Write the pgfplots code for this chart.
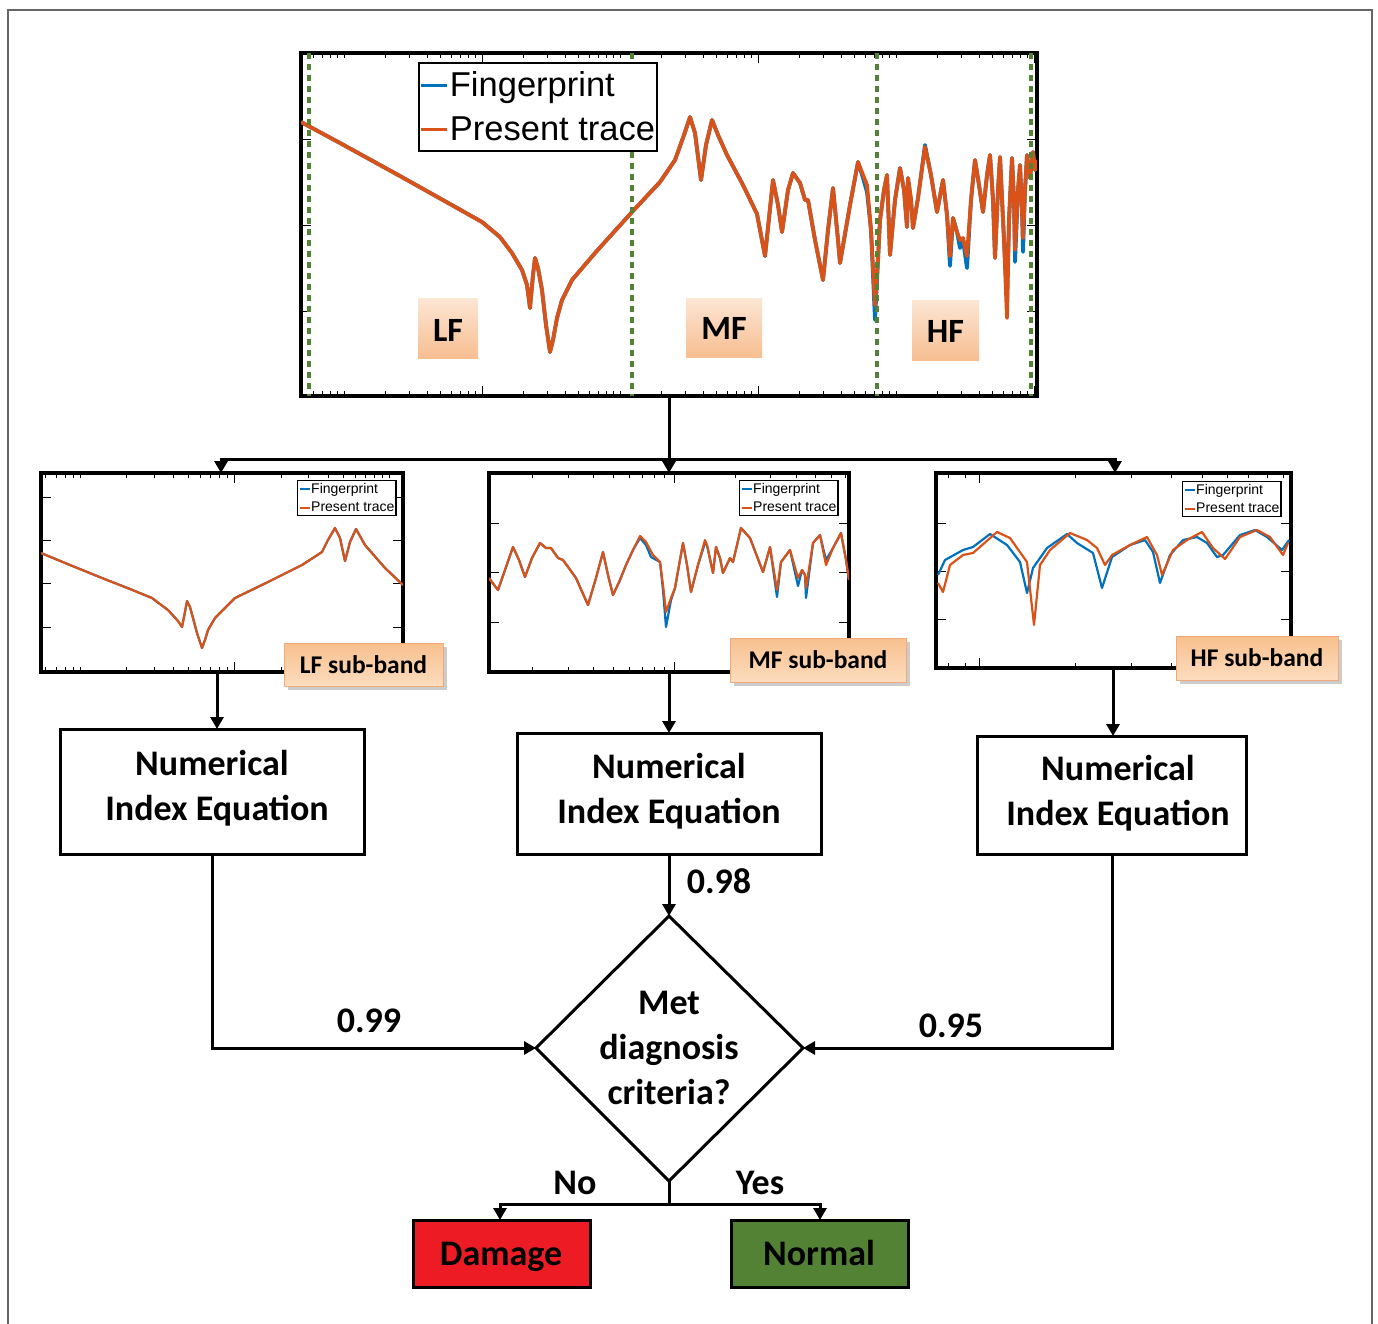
\documentclass[border=0pt]{standalone}
\usepackage{pgfplots}
\pgfplotsset{compat=1.18}
\usetikzlibrary{arrows.meta}
\usepackage{fontspec}
\setmainfont{Carlito}
\newfontfamily\arialf{Liberation Sans}
\definecolor{mblue}{RGB}{0,114,189}
\definecolor{morange}{RGB}{217,83,25}
\definecolor{dgreen}{RGB}{84,130,53}
\definecolor{dmgred}{RGB}{237,28,36}
\definecolor{nrmgreen}{RGB}{84,130,53}
\definecolor{peachT}{RGB}{252,230,212}
\definecolor{peachB}{RGB}{247,190,145}
\definecolor{subT}{RGB}{248,192,142}
\definecolor{subB}{RGB}{252,220,190}
\definecolor{subE}{RGB}{240,170,120}
\newcommand\bigf{\fontsize{36}{43}\selectfont\bfseries}
\newcommand\lblf{\fontsize{34}{40}\selectfont\bfseries}
\newcommand\subf{\fontsize{25.5}{30}\selectfont\bfseries}
\pgfplotsset{
  pxax/.style={scale only axis, y dir=reverse,
    line width=3.8pt,
    axis line style={line width=3.8pt},
    tick style={black, line width=1pt},
    major tick length=10pt, minor tick length=5pt,
    xticklabels={}, yticklabels={}, clip=true,
    legend cell align=left},
  sublegend/.style={legend style={anchor=north west, draw=black, line width=1.2pt,
      font=\arialf\fontsize{14}{16}\selectfont, inner xsep=1pt, inner ysep=2pt,
      row sep=6pt, nodes={inner sep=0.6pt}},
    legend image code/.code={\draw[##1, line width=2pt] (0pt,0pt) -- (10pt,0pt);}},
}
\begin{document}
\begin{tikzpicture}
\begin{scope}[x=1pt,y=-1pt]
\useasboundingbox (0,0) rectangle (1378,1323);
\draw[black!60, line width=1.5pt] (8,1340) -- (8,10) -- (1372,10) -- (1372,1340);
\end{scope}

% ---------------- top plot ----------------
\begin{axis}[pxax, at={(301pt,-53pt)}, anchor=north west, width=736pt, height=343pt,
  xmin=301, xmax=1037, ymin=53, ymax=396,
  xtick={482,758,1034},
  minor xtick={313.4,322.6,330.6,337.7,344,385.5,409.8,427.1,440.5,451.4,460.6,468.6,475.7,523.5,547.8,565.1,578.5,589.4,598.6,606.6,613.7,620,661.5,685.8,703.1,716.5,727.4,736.6,744.6,751.7,799.5,823.8,841.1,854.5,865.4,874.6,882.6,889.7,896,937.5,961.8,979.1,992.5,1003.4,1012.6,1020.6,1027.7},
  ytick={139,225,311},
  legend style={at={(axis cs:418,62)}, anchor=north west, draw=black, line width=1.8pt,
    font=\arialf\fontsize{34.5}{40}\selectfont, inner xsep=1pt, inner ysep=8pt,
    row sep=16pt, nodes={inner sep=1pt}},
  legend image code/.code={\draw[#1, line width=3pt] (0pt,0pt) -- (26pt,0pt);}]
\addplot[mblue, line width=3.8pt, line join=round] coordinates {
(301,122) (340,143) (400,176) (450,204) (482,222) (500,237) (512,253) (522,270) (527,285) (530,308) (533,275) (535,258) (538,268) (542,290) (546,325) (550,352) (553,340) (557,318) (562,300) (572,280) (595,253) (632,212) (660,182) (675,160) (684,135) (690,117) (695,133) (701,180) (706,145) (712,120) (718,135) (727,155) (743,185) (757,214) (765,256) (773,180) (778,205) (782,232) (788,190) (793,173) (800,183) (805,200) (808,200) (815,240) (823,280) (828,230) (833,188) (838,240) (840,263) (850,205) (858,162) (863,178) (867,192) (871,230) (875,320) (878,260) (880,220) (884,190) (887,175) (890,255) (895,200) (900,168) (904,190) (907,227) (908,178) (911,200) (913,228) (918,198) (925,145) (931,175) (937,212) (943,180) (947,215) (950,266) (953,218) (957,232) (960,248) (963,240) (967,268) (971,200) (975,160) (979,185) (983,212) (987,175) (990,155) (993,200) (995,258) (998,190) (1000,157) (1004,240) (1007,300) (1009,220) (1012,158) (1014,200) (1015,262) (1018,190) (1020,165) (1022,210) (1023,252) (1025,190) (1027,155) (1030,178) (1033,152) (1035,170) (1037,160)};
\addlegendentry{Fingerprint}
\addplot[morange, line width=3.8pt, line join=round] coordinates {
(301,122) (340,143) (400,176) (450,204) (482,222) (500,237) (512,253) (522,270) (527,285) (530,308) (533,275) (535,258) (538,268) (542,290) (546,325) (550,352) (553,340) (557,318) (562,300) (572,280) (595,253) (632,212) (660,182) (675,160) (684,135) (690,117) (695,133) (701,180) (706,145) (712,120) (718,135) (727,155) (743,185) (757,214) (765,256) (773,180) (778,205) (782,232) (788,190) (793,173) (800,183) (805,200) (808,200) (815,240) (823,280) (828,230) (833,188) (838,240) (840,263) (850,205) (858,162) (863,175) (867,185) (871,230) (875,305) (878,260) (880,220) (884,190) (887,175) (890,255) (895,200) (900,168) (904,190) (907,227) (908,178) (911,200) (913,228) (918,198) (925,147) (931,175) (937,212) (943,180) (947,215) (950,256) (953,218) (957,232) (960,240) (963,238) (967,256) (971,200) (975,160) (979,185) (983,212) (987,175) (990,155) (993,200) (995,258) (998,190) (1000,157) (1004,240) (1007,318) (1009,220) (1012,158) (1014,200) (1015,250) (1018,190) (1020,165) (1022,210) (1023,238) (1025,190) (1027,155) (1030,178) (1033,152) (1035,170) (1037,160)};
\addlegendentry{Present trace}
\addplot[dgreen, line width=4pt, dash pattern=on 6pt off 5pt, forget plot] coordinates {(309,53) (309,396)};
\addplot[dgreen, line width=4pt, dash pattern=on 6pt off 5pt, forget plot] coordinates {(632,53) (632,396)};
\addplot[dgreen, line width=4pt, dash pattern=on 6pt off 5pt, forget plot] coordinates {(877,53) (877,396)};
\addplot[dgreen, line width=4pt, dash pattern=on 6pt off 5pt, forget plot] coordinates {(1031,53) (1031,396)};
\end{axis}

% ---------------- LF sub-band ----------------
\begin{axis}[pxax, sublegend, at={(41pt,-473pt)}, anchor=north west, width=362pt, height=199pt,
  xmin=41, xmax=403, ymin=473, ymax=672,
  xtick={234.9},
  minor xtick={45.9,56.2,65.1,73.1,80.2,126.7,154,173.3,188.3,200.6,210.9,219.8,227.8,281.4,308.7,328,343,355.3,365.6,374.5,382.5,389.5},
  ytick={497,540,583,627},
  legend style={at={(axis cs:297,480)}}]
\addplot[mblue, line width=2.2pt, line join=round] coordinates {
(41,553) (70,565) (102,578) (130,589) (152,598) (168,610) (178,621) (182,627) (185,612) (187,601) (190,607) (193,618) (197,633) (202,648) (205,640) (208,630) (215,618) (235,598) (268,582) (302,565) (322,552) (328,540) (335,528) (340,538) (345,561) (350,542) (356,529) (365,545) (385,568) (403,585)};
\addlegendentry{Fingerprint}
\addplot[morange, line width=2.2pt, line join=round] coordinates {
(41,553) (70,565) (102,578) (130,589) (152,598) (168,610) (178,621) (182,627) (185,612) (187,601) (190,607) (193,618) (197,633) (202,648) (205,640) (208,630) (215,618) (235,598) (268,582) (302,565) (322,552) (328,540) (335,528) (340,538) (345,561) (350,542) (356,529) (365,545) (385,568) (403,585)};
\addlegendentry{Present trace}
\end{axis}

% ---------------- MF sub-band ----------------
\begin{axis}[pxax, sublegend, at={(489pt,-473pt)}, anchor=north west, width=360pt, height=199pt,
  xmin=489, xmax=849, ymin=473, ymax=672,
  xtick={674.1},
  minor xtick={532.4,568.2,593.5,613.1,629.2,642.8,654.5,664.9,735.1,770.9,796.2,815.8,831.9,845.5},
  ytick={523,572,622},
  legend style={at={(axis cs:739,480)}}]
\addplot[mblue, line width=2.2pt, line join=round] coordinates {
(489,578) (498,590) (505,570) (513,547) (519,560) (525,577) (532,558) (540,543) (546,548) (551,548) (558,558) (563,560) (576,578) (588,605) (596,578) (603,552) (608,575) (613,595) (620,580) (626,565) (633,550) (640,538) (646,545) (651,557) (660,562) (663,590) (666,627) (671,600) (675,588) (683,543) (687,565) (691,592) (698,565) (705,543) (707,545) (713,573) (716,547) (720,558) (723,573) (730,558) (733,562) (741,528) (750,538) (763,572) (770,547) (777,597) (781,562) (790,550) (798,586) (802,570) (805,575) (806,598) (813,543) (820,535) (826,560) (833,548) (841,533) (846,560) (849,580)};
\addlegendentry{Fingerprint}
\addplot[morange, line width=2.2pt, line join=round] coordinates {
(489,578) (498,590) (505,570) (513,547) (519,560) (525,577) (532,558) (540,543) (546,548) (551,548) (558,558) (563,560) (576,578) (588,605) (596,578) (603,552) (608,575) (613,595) (620,580) (626,565) (633,550) (640,536) (646,542) (653,555) (660,562) (663,585) (666,612) (671,598) (675,588) (683,543) (687,565) (691,592) (698,565) (705,540) (707,545) (713,573) (716,547) (720,558) (723,573) (730,558) (733,562) (741,528) (750,538) (763,572) (770,547) (777,590) (781,562) (790,550) (798,578) (802,570) (805,575) (806,588) (813,543) (820,535) (826,565) (833,548) (841,533) (846,560) (849,580)};
\addlegendentry{Present trace}
\end{axis}

% ---------------- HF sub-band ----------------
\begin{axis}[pxax, sublegend, at={(936pt,-473pt)}, anchor=north west, width=355pt, height=195pt,
  xmin=936, xmax=1291, ymin=473, ymax=668,
  xtick={979.8},
  minor xtick={948.9,965.1,1075.5,1131.5,1171.2,1202.1,1227.2,1248.5,1267,1283.2},
  ytick={523,571,619},
  legend style={at={(axis cs:1182,481)}}]
\addplot[mblue, line width=2.2pt, line join=round] coordinates {
(938,575) (945,560) (963,550) (973,547) (990,534) (1007,545) (1020,562) (1027,593) (1033,568) (1047,548) (1067,534) (1077,543) (1093,553) (1102,588) (1112,557) (1130,545) (1145,540) (1153,552) (1160,583) (1170,555) (1183,540) (1197,537) (1207,543) (1217,557) (1223,555) (1240,535) (1255,530) (1267,537) (1282,550) (1289,540)};
\addlegendentry{Fingerprint}
\addplot[morange, line width=2.2pt, line join=round] coordinates {
(938,583) (943,592) (950,565) (963,555) (973,553) (997,532) (1010,538) (1027,562) (1034,625) (1040,565) (1050,550) (1070,533) (1087,540) (1097,548) (1105,565) (1112,555) (1130,545) (1147,537) (1157,555) (1162,575) (1173,550) (1187,540) (1202,532) (1213,548) (1225,559) (1240,537) (1257,530) (1270,537) (1283,555) (1288,543)};
\addlegendentry{Present trace}
\end{axis}

% ---------------- flowchart ----------------
\begin{scope}[x=1pt,y=-1pt, line width=3pt, >={Triangle[width=13pt,length=12pt]}]
% band labels
\shade[top color=peachT, bottom color=peachB] (418,298) rectangle (478,358);
\shade[top color=peachT, bottom color=peachB] (686,298) rectangle (762,357);
\shade[top color=peachT, bottom color=peachB] (912,300) rectangle (979,360);
\node[anchor=base, inner sep=0] at (448,341) {\lblf LF};
\node[anchor=base, inner sep=0] at (724,339) {\lblf MF};
\node[anchor=base, inner sep=0] at (945.5,342) {\lblf HF};
% connectors from top plot
\draw (669,396) -- (669,459);
\draw[->] (669,459) -| (221,473);
\draw[->] (669,459) -| (1115,473);
\draw[->] (669,459) -- (669,473);
% sub-band labels
\fill[black!40, opacity=0.5] (288,647) rectangle (447,690);
\draw[top color=subT, bottom color=subB, draw=subE, line width=1pt] (284,643) rectangle (443,686);
\node[anchor=base, inner sep=0] at (363.5,673) {\subf LF sub-band};
\fill[black!40, opacity=0.5] (734,642) rectangle (910,686);
\draw[top color=subT, bottom color=subB, draw=subE, line width=1pt] (730,638) rectangle (906,682);
\node[anchor=base, inner sep=0] at (818,668) {\subf MF sub-band};
\fill[black!40, opacity=0.5] (1180,640) rectangle (1342,684);
\draw[top color=subT, bottom color=subB, draw=subE, line width=1pt] (1176,636) rectangle (1338,680);
\node[anchor=base, inner sep=0] at (1257,666) {\subf HF sub-band};
% arrows to boxes
\draw[->] (217,672) -- (217,729);
\draw[->] (669,672) -- (669,733);
\draw[->] (1113,668) -- (1113,736);
% boxes
\draw (60,729) rectangle (364,854);
\draw (517,733) rectangle (821,854);
\draw (977,736) rectangle (1246,854);
\node[anchor=base, inner sep=0] at (212,775) {\bigf Numerical};
\node[anchor=base, inner sep=0] at (217,820) {\bigf Index Equation};
\node[anchor=base, inner sep=0] at (669,778) {\bigf Numerical};
\node[anchor=base, inner sep=0] at (669,823) {\bigf Index Equation};
\node[anchor=base, inner sep=0] at (1118,780) {\bigf Numerical};
\node[anchor=base, inner sep=0] at (1118,825) {\bigf Index Equation};
% diamond
\draw (669,916) -- (803,1048) -- (669,1181) -- (536,1048) -- cycle;
\node[anchor=base, inner sep=0] at (669,1014) {\bigf Met};
\node[anchor=base, inner sep=0] at (669,1059) {\bigf diagnosis};
\node[anchor=base, inner sep=0] at (669,1104) {\bigf criteria?};
\draw[->] (669,854) -- (669,916);
\draw[->] (212,854) |- (536,1048);
\draw[->] (1112,854) |- (803,1048);
\node[anchor=base, inner sep=0] at (719,893) {\bigf 0.98};
\node[anchor=base, inner sep=0] at (369,1032) {\bigf 0.99};
\node[anchor=base, inner sep=0] at (951,1037) {\bigf 0.95};
% outcome
\draw (669,1181) -- (669,1204);
\draw[->] (669,1204) -| (500,1220);
\draw[->] (669,1204) -| (820,1220);
\node[anchor=base, inner sep=0] at (575,1194) {\bigf No};
\node[anchor=base, inner sep=0] at (760,1194) {\bigf Yes};
\draw[fill=dmgred] (413,1220) rectangle (590,1287);
\draw[fill=nrmgreen] (731,1220) rectangle (908,1287);
\node[anchor=base, inner sep=0] at (501,1265) {\bigf Damage};
\node[anchor=base, inner sep=0] at (819,1265) {\bigf Normal};
\end{scope}
\end{tikzpicture}
\end{document}
